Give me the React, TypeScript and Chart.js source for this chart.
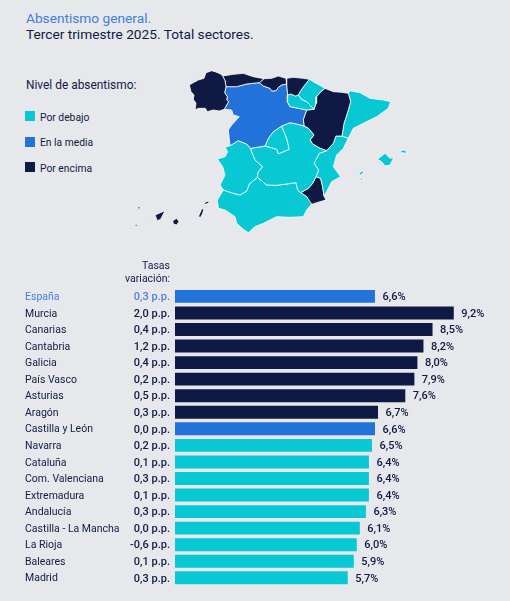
import React, { useEffect, useRef } from "react";
import { Chart, registerables } from "chart.js";

Chart.register(...registerables);

const BG = "#E7E8EC";
const NAVY = "#0F1A44";
const BLUE = "#2272D9";
const TEAL = "#08C8D4";
const FONT = "Roboto";

const categories = ["España", "Murcia", "Canarias", "Cantabria", "Galicia", "País Vasco", "Asturias", "Aragón", "Castilla y León", "Navarra", "Cataluña", "Com. Valenciana", "Extremadura", "Andalucía", "Castilla - La Mancha", "La Rioja", "Baleares", "Madrid"];
const rates = [6.6, 9.2, 8.5, 8.2, 8.0, 7.9, 7.6, 6.7, 6.6, 6.5, 6.4, 6.4, 6.4, 6.3, 6.1, 6.0, 5.9, 5.7];
const variations = ["0,3 p.p.", "2,0 p.p.", "0,4 p.p.", "1,2 p.p.", "0,4 p.p.", "0,2 p.p.", "0,5 p.p.", "0,3 p.p.", "0,0 p.p.", "0,2 p.p.", "0,1 p.p.", "0,3 p.p.", "0,1 p.p.", "0,3 p.p.", "0,0 p.p.", "-0,6 p.p.", "0,1 p.p.", "0,3 p.p."];
const levels = [BLUE, NAVY, NAVY, NAVY, NAVY, NAVY, NAVY, NAVY, BLUE, TEAL, TEAL, TEAL, TEAL, TEAL, TEAL, TEAL, TEAL, TEAL];

const legendItems: [string, string][] = [["Por debajo", TEAL], ["En la media", BLUE], ["Por encima", NAVY]];

type P = [number, number];
const galicia: P[] = [[178,75],[190,68],[205,60],[222,55],[228,38],[245,32],[258,36],[272,42],[278,48],[285,62],[288,80],[284,98],[292,110],[290,120],[296,125],[290,135],[283,148],[268,153],[250,150],[232,155],[226,145],[205,145],[195,150],[198,130],[190,118],[192,105],[183,95]];
const asturias: P[] = [[278,48],[310,43],[340,40],[370,50],[402,56],[388,68],[350,72],[320,80],[288,80],[285,62]];
const cantabria: P[] = [[402,56],[425,55],[445,48],[468,55],[470,72],[455,75],[445,82],[438,92],[425,93],[420,85],[400,78],[388,68]];
const paisVasco: P[] = [[468,55],[490,52],[520,55],[538,58],[522,78],[512,92],[505,105],[497,108],[482,102],[473,105],[470,72]];
const navarra: P[] = [[538,58],[555,68],[585,85],[572,95],[560,110],[558,130],[552,148],[540,135],[530,125],[515,118],[505,105],[512,92],[522,78]];
const rioja: P[] = [[473,105],[482,102],[497,108],[505,105],[515,118],[530,125],[540,135],[552,148],[530,150],[505,145],[480,140],[472,125]];
const castillaLeon: P[] = [[288,80],[320,80],[350,72],[388,68],[400,78],[420,85],[425,93],[438,92],[445,82],[455,75],[470,72],[473,105],[472,125],[480,140],[505,145],[530,150],[520,178],[522,198],[500,192],[480,188],[455,198],[430,215],[415,235],[405,258],[362,265],[350,252],[325,242],[300,257],[295,210],[305,195],[328,170],[310,165],[305,150],[283,148],[290,135],[296,125],[290,120],[292,110],[284,98]];
const madrid: P[] = [[455,198],[470,235],[478,268],[445,282],[440,268],[405,258],[415,235],[430,215]];
const mancha: P[] = [[362,265],[405,258],[440,268],[445,282],[478,268],[470,235],[455,198],[480,188],[500,192],[522,198],[535,205],[552,225],[540,240],[548,252],[570,265],[590,272],[568,280],[552,310],[566,330],[558,350],[548,370],[535,385],[512,398],[503,390],[498,368],[470,372],[440,376],[410,375],[382,352],[385,335],[398,320],[375,300],[365,275]];
const extremadura: P[] = [[285,262],[300,257],[325,242],[350,252],[362,265],[365,275],[375,300],[398,320],[385,335],[382,352],[358,372],[350,393],[330,405],[310,400],[280,390],[270,375],[285,345],[278,320],[262,297],[285,290],[293,275]];
const andalucia: P[] = [[280,390],[310,400],[330,405],[350,393],[358,372],[382,352],[410,375],[440,376],[470,372],[498,368],[503,390],[512,398],[530,410],[545,432],[530,450],[520,470],[480,472],[440,470],[400,490],[375,500],[355,518],[340,508],[320,490],[315,470],[285,450],[265,445],[262,420]];
const aragon: P[] = [[585,85],[610,95],[635,97],[655,100],[662,125],[655,150],[642,190],[636,228],[618,228],[610,250],[590,272],[570,265],[548,252],[540,240],[552,225],[535,205],[522,198],[520,178],[530,150],[552,148],[558,130],[560,110],[572,95]];
const cataluna: P[] = [[655,100],[660,92],[690,98],[720,115],[760,120],[782,125],[775,145],[740,170],[700,190],[670,205],[655,235],[636,228],[642,190],[655,150],[662,125]];
const valencia: P[] = [[618,228],[636,228],[655,235],[640,265],[620,285],[610,320],[632,350],[605,365],[590,395],[582,408],[578,380],[572,355],[558,350],[566,330],[552,310],[568,280],[590,272],[610,250]];
const murcia: P[] = [[558,350],[572,355],[578,380],[582,408],[588,420],[560,428],[540,435],[530,410],[512,398],[535,385],[548,370]];
const mallorca: P[] = [[742,298],[765,280],[780,295],[792,292],[780,315],[765,318],[755,305]];
const menorca: P[] = [[810,272],[825,270],[832,280],[815,278]];
const ibiza: P[] = [[686,340],[698,332],[700,338],[692,345]];
const formentera: P[] = [[690,355],[700,355],[700,360],[692,360]];
const tenerife: P[] = [[75,465],[105,452],[92,478],[82,482]];
const granCanaria: P[] = [[128,482],[140,475],[147,485],[140,495],[130,492]];
const fuerteventura: P[] = [[205,470],[215,447],[222,445],[218,460],[212,472]];
const lanzarote: P[] = [[222,428],[238,422],[235,430],[225,433]];
const laPalma: P[] = [[23,440],[30,440],[28,455]];
const gomera: P[] = [[53,475],[60,475],[58,480]];
const hierro: P[] = [[13,495],[22,492],[20,500]];

const regions: [P[], string][] = [
  [galicia, NAVY], [asturias, NAVY], [cantabria, NAVY], [paisVasco, NAVY], [navarra, TEAL], [rioja, TEAL],
  [castillaLeon, BLUE], [mancha, TEAL], [madrid, TEAL], [extremadura, TEAL], [andalucia, TEAL], [aragon, NAVY],
  [cataluna, TEAL], [valencia, TEAL], [murcia, NAVY], [mallorca, TEAL], [menorca, TEAL], [ibiza, TEAL], [formentera, TEAL],
  [tenerife, NAVY], [granCanaria, NAVY], [fuerteventura, NAVY], [lanzarote, NAVY], [laPalma, NAVY], [gomera, NAVY], [hierro, NAVY],
];

const abs = (left: number, top: number, extra: React.CSSProperties = {}): React.CSSProperties => ({
  position: "absolute", left, top, whiteSpace: "nowrap", fontFamily: FONT, ...extra,
});

export default function App() {
  const mapRef = useRef<HTMLCanvasElement>(null);
  const barRef = useRef<HTMLCanvasElement>(null);

  useEffect(() => {
    const map = new Chart(mapRef.current!, {
      type: "scatter",
      data: {
        datasets: regions.map(([poly, color]) => ({
          data: [...poly, poly[0]].map(([x, y]) => ({ x, y })),
          showLine: true,
          fill: "shape",
          backgroundColor: color,
          borderColor: "#FFFFFF",
          borderWidth: 0.8,
          pointRadius: 0,
          tension: 0,
          clip: false,
        })),
      },
      options: {
        animation: false,
        responsive: false,
        layout: { padding: 0 },
        plugins: { legend: { display: false }, tooltip: { enabled: false } },
        scales: {
          x: { type: "linear", display: false, min: 0, max: 840 },
          y: { type: "linear", display: false, min: 0, max: 540, reverse: true },
        },
      },
    } as any);

    const rowText = {
      id: "rowText",
      afterDatasetsDraw(chart: any) {
        const { ctx, scales } = chart;
        ctx.save();
        ctx.font = `500 11px ${FONT}`;
        ctx.textBaseline = "middle";
        const meta = chart.getDatasetMeta(0);
        categories.forEach((_, i) => {
          const y = scales.y.getPixelForValue(i) + 1;
          ctx.textAlign = "right";
          ctx.fillStyle = i === 0 ? "#4A7FE0" : NAVY;
          ctx.fillText(variations[i], 170, y);
          ctx.textAlign = "left";
          ctx.fillStyle = NAVY;
          ctx.fillText(rates[i].toFixed(1).replace(".", ",") + "%", meta.data[i].x + 7.5, y);
        });
        ctx.restore();
      },
    };

    const bars = new Chart(barRef.current!, {
      type: "bar",
      data: {
        labels: categories,
        datasets: [{
          data: rates,
          backgroundColor: levels,
          borderWidth: 0,
          categoryPercentage: 1,
          barPercentage: 0.78,
        }],
      },
      options: {
        indexAxis: "y",
        animation: false,
        responsive: false,
        layout: { padding: { left: 25, right: 0, top: 28.1, bottom: 14.9 } },
        plugins: { legend: { display: false }, tooltip: { enabled: false } },
        scales: {
          x: { type: "linear", display: false, min: 0, max: 11.056 },
          y: {
            type: "category",
            grid: { display: false },
            border: { display: false },
            afterFit(axis: any) { axis.width = 150; },
            ticks: {
              autoSkip: false,
              crossAlign: "far",
              padding: 0,
              labelOffset: 1,
              font: { family: FONT, size: 10.5 },
              color: (c: any) => (c.index === 0 ? "#4A7FE0" : NAVY),
            },
          },
        },
      },
      plugins: [rowText],
    } as any);

    return () => { map.destroy(); bars.destroy(); };
  }, []);

  return (
    <div style={{ position: "fixed", inset: 0, background: BG, overflow: "hidden", color: NAVY }}>
      <div style={abs(26, 9.5, { fontSize: 13.7, lineHeight: "16px", color: "#3F7DE0" })}>Absentismo general.</div>
      <div style={abs(26, 25.5, { fontSize: 13.7, lineHeight: "16px" })}>Tercer trimestre 2025. Total sectores.</div>
      <div style={abs(26, 77, { fontSize: 11.9, lineHeight: "16px" })}>Nivel de absentismo:</div>
      {legendItems.map(([label, color], i) => (
        <React.Fragment key={label}>
          <div style={{ position: "absolute", left: 25, top: [111, 137, 162][i], width: 10, height: 10, background: color }} />
          <div style={abs(40, [111, 136, 162][i], { fontSize: 10.3, lineHeight: "14px" })}>{label}</div>
        </React.Fragment>
      ))}
      <canvas ref={mapRef} width={280} height={180} style={{ position: "absolute", left: 130, top: 60, width: 280, height: 180 }} />
      <canvas ref={barRef} width={510} height={341} style={{ position: "absolute", left: 0, top: 260, width: 510, height: 341 }} />
      <div style={abs(99, 258.5, { width: 71, textAlign: "right", fontSize: 10.5, lineHeight: "13.5px", whiteSpace: "normal" })}>Tasas<br />variación:</div>
    </div>
  );
}
